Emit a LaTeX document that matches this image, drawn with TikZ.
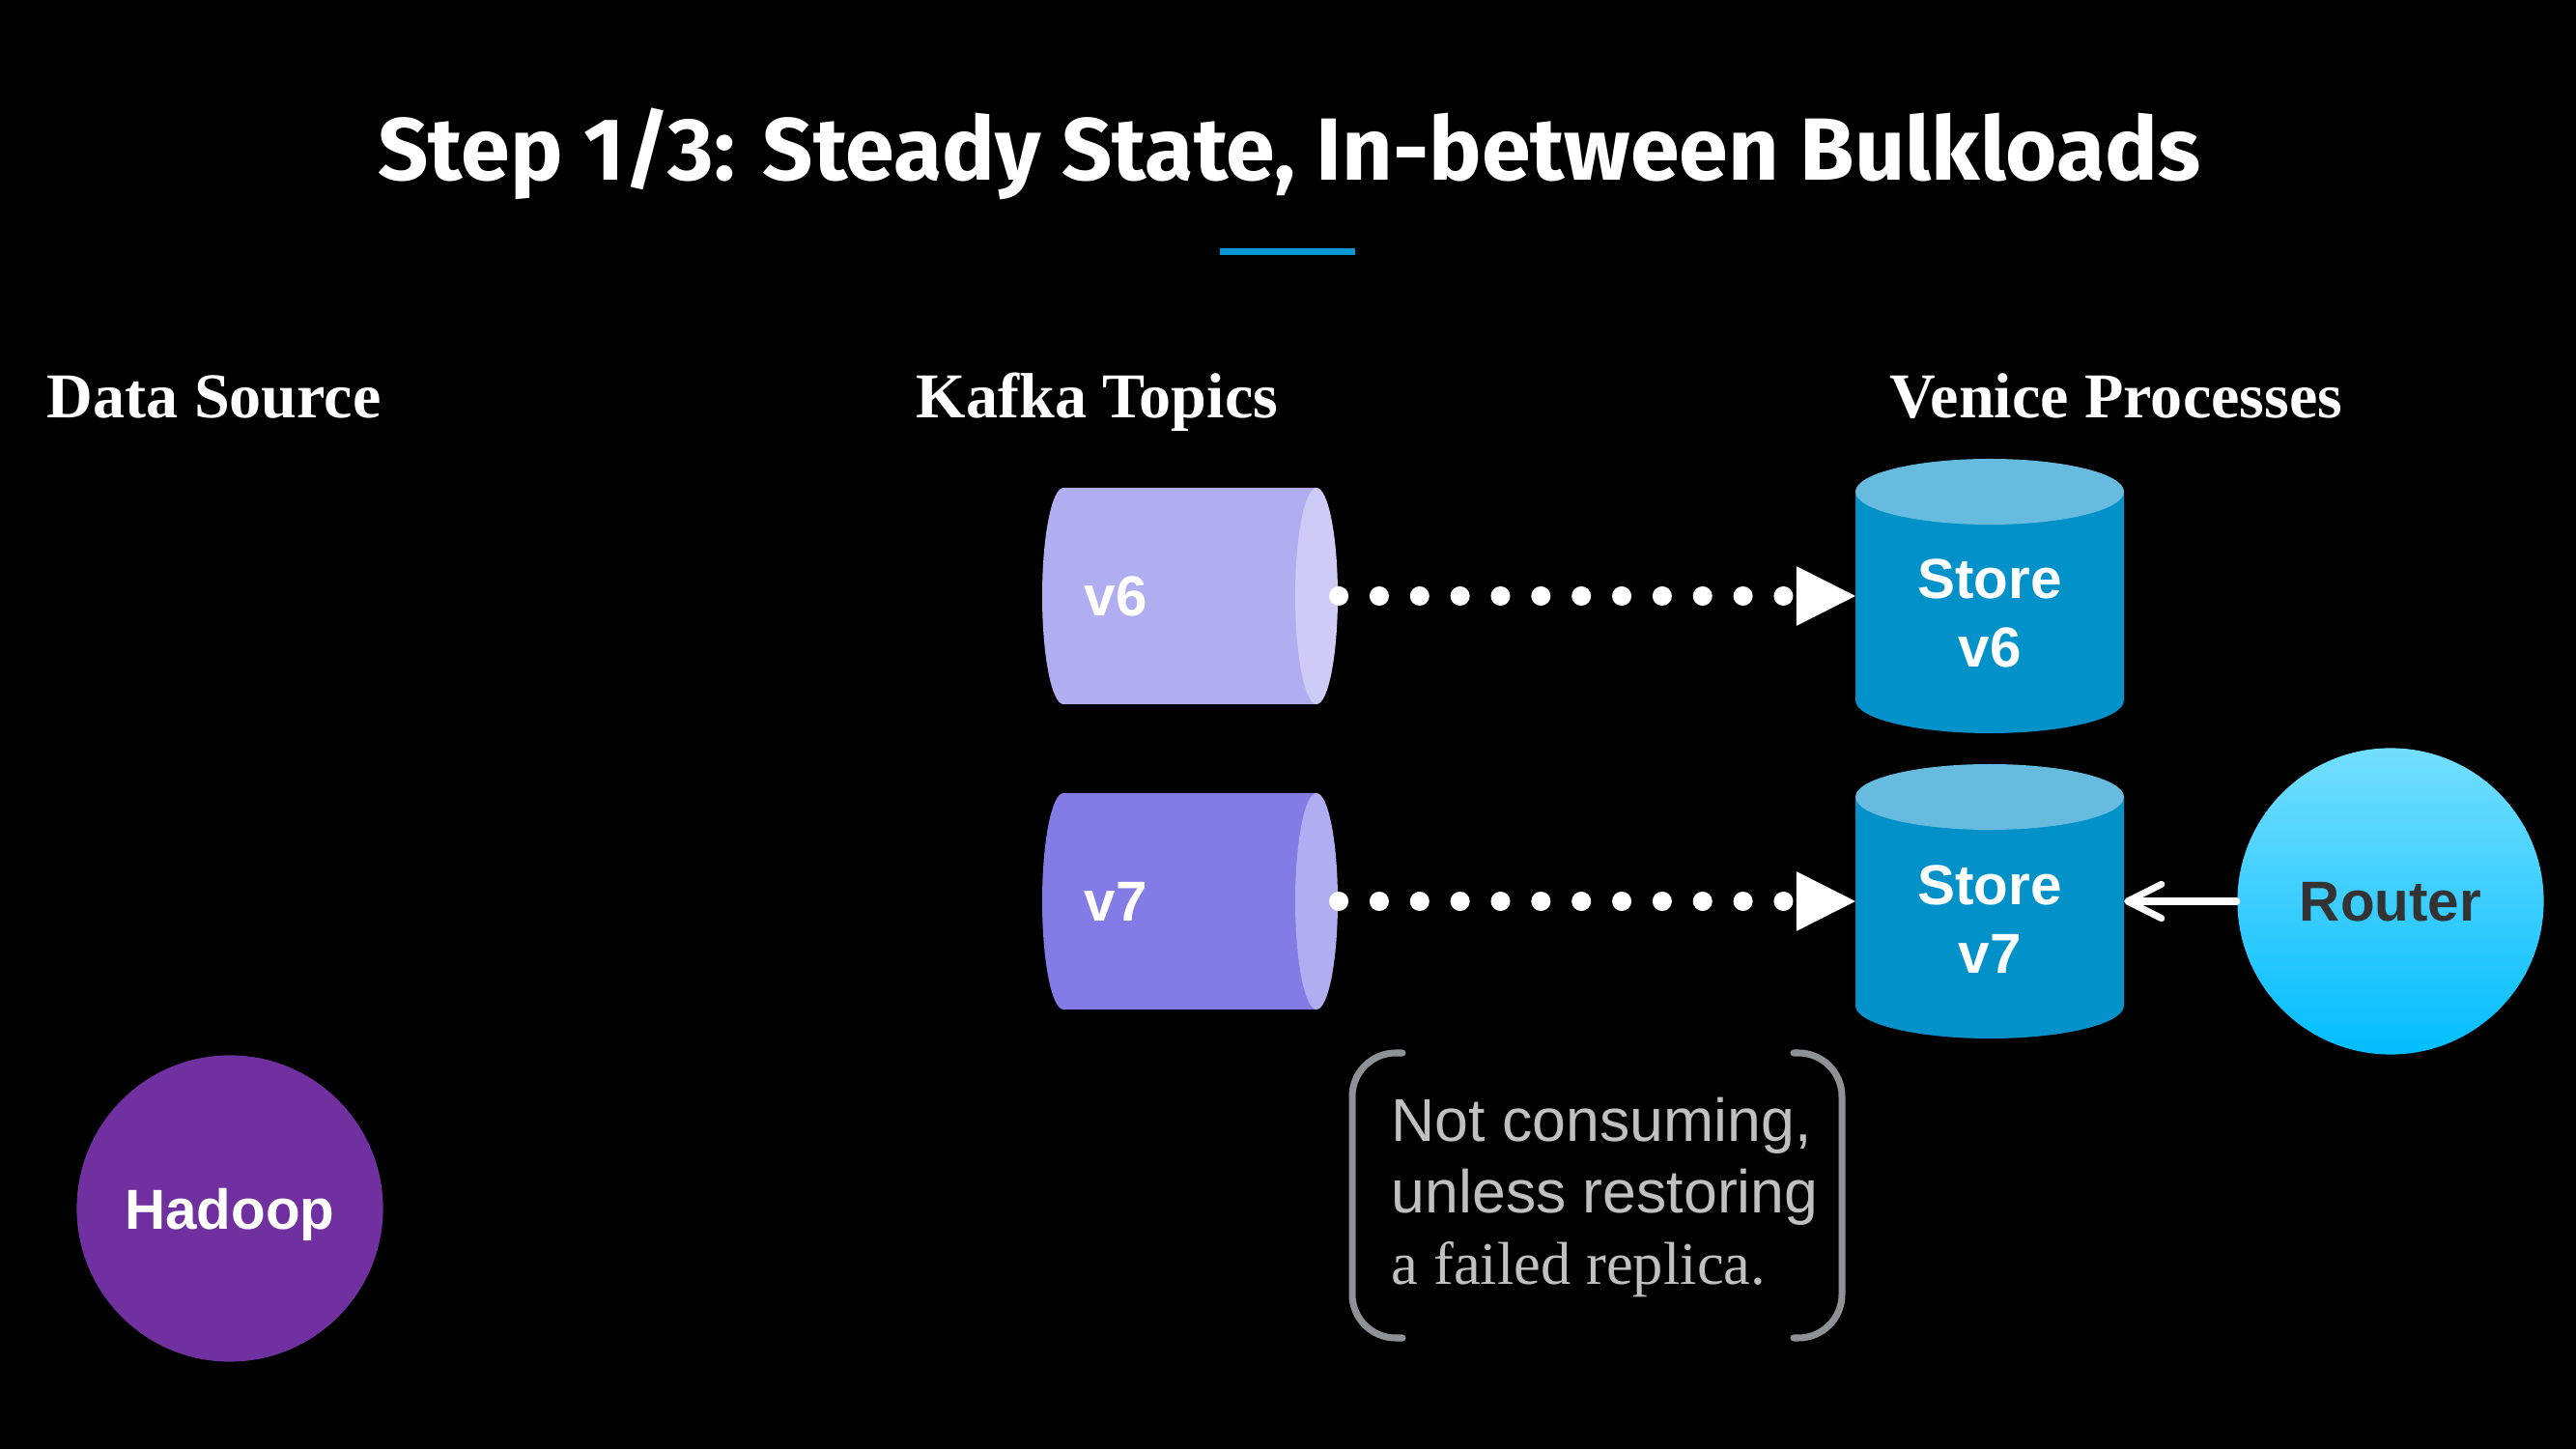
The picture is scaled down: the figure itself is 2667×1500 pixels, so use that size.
\documentclass[tikz,border=0pt]{standalone}
\usepackage{fontspec}
\setmainfont{Liberation Serif}
\setsansfont{Liberation Sans}
\newfontfamily\titlefont{Fira Sans}
\usetikzlibrary{arrows.meta}

\definecolor{accentblue}{HTML}{0A98D4}
\definecolor{kafkapale}{HTML}{B0ADF0}
\definecolor{kafkacap}{HTML}{CECBF7}
\definecolor{kafkadeep}{HTML}{837BE6}
\definecolor{storebody}{HTML}{0391C9}
\definecolor{storetop}{HTML}{66BBDF}
\definecolor{routertop}{HTML}{74DEFF}
\definecolor{routerbottom}{HTML}{02BDFE}
\definecolor{routerink}{HTML}{333333}
\definecolor{hadooppurple}{HTML}{7030A0}
\definecolor{bracketgray}{HTML}{8E9196}
\definecolor{notegray}{HTML}{C0C0C0}

\tikzset{
	titletext/.style={white, inner sep=0pt, font=\titlefont\bfseries\fontsize{26}{30}\selectfont},
	header/.style={white, inner sep=0pt, font=\rmfamily\bfseries\fontsize{18.8}{22}\selectfont},
	shapebox/.style={inner sep=0pt, outer sep=0pt},
	bodytext/.style={white, inner sep=0pt, align=center, font=\sffamily\bfseries\fontsize{16.6}{20.2}\selectfont},
	disc/.style={circle, inner sep=0pt, minimum size=3.17cm, text depth=0pt, font=\sffamily\bfseries\fontsize{16.6}{20}\selectfont},
	dotflow/.style={draw=white, line width=5.7pt, line cap=round, dash pattern=on 0pt off 11.9pt, -{Triangle[length=17.4pt,width=17.6pt,line width=0pt]}},
	backflow/.style={draw=white, line width=2pt, line cap=round, -{Straight Barb[length=10pt,width=10pt,round]}},
	bracket/.style={draw=bracketgray, line width=2pt, line cap=round, rounded corners=0.45cm},
	notetext/.style={notegray, inner sep=0pt, align=left, font=\sffamily\fontsize{17.8}{21.05}\selectfont},
}

\begin{document}
\begin{tikzpicture}[x=0.01cm, y=0.01cm]
	\fill[black] (0,0) rectangle (2667,1500);
	\useasboundingbox (0,0) rectangle (2667,1500);
	\node[titletext, anchor=base] (title) at (1335,1313) {Step 1/3: Steady State, In-between Bulkloads};
	\draw[accentblue, line width=2pt] (1263,1239) -- (1403,1239);
	\node[header, anchor=base west] (source) at (48,1067) {Data Source};
	\node[header, anchor=base] (topics) at (1136,1067) {Kafka Topics};
	\node[header, anchor=base] (venice) at (2191,1067) {Venice Processes};
	\fill[kafkapale] (1363,995) -- (1101,995) arc[start angle=90, end angle=270, x radius=22, y radius=112] -- (1363,771) -- cycle;
	\fill[kafkacap] (1363,883) ellipse[x radius=22, y radius=112];
	\fill[kafkadeep] (1363,679) -- (1101,679) arc[start angle=90, end angle=270, x radius=22, y radius=112] -- (1363,455) -- cycle;
	\fill[kafkapale] (1363,567) ellipse[x radius=22, y radius=112];
	\fill[storebody] (1921,991) -- (1921,775) arc[start angle=180, end angle=360, x radius=139, y radius=34] -- (2199,991) -- cycle;
	\fill[storetop] (2060,991) ellipse[x radius=139, y radius=34];
	\fill[storebody] (1921,675) -- (1921,459) arc[start angle=180, end angle=360, x radius=139, y radius=34] -- (2199,675) -- cycle;
	\fill[storetop] (2060,675) ellipse[x radius=139, y radius=34];
	\node[shapebox, minimum width=3.08cm, minimum height=2.24cm] (topic6) at (1232,883) {};
	\node[shapebox, minimum width=3.08cm, minimum height=2.24cm] (topic7) at (1232,567) {};
	\node[shapebox, minimum width=2.78cm, minimum height=2.84cm] (store6) at (2060,883) {};
	\node[shapebox, minimum width=2.78cm, minimum height=2.84cm] (store7) at (2060,567) {};
	\node[bodytext, anchor=base west] (topic6label) at (1122,862) {v6};
	\node[bodytext, anchor=base west] (topic7label) at (1122,546) {v7};
	\node[bodytext, anchor=base] (store6label) at (2060,809) {Store\\v6};
	\node[bodytext, anchor=base] (store7label) at (2060,492) {Store\\v7};
	\node[disc, top color=routertop, bottom color=routerbottom, text=routerink] (router) at (2475,567) {Router};
	\node[disc, fill=hadooppurple, text=white] (hadoop) at (238,249) {Hadoop};
	\draw[dotflow] (topic6.east) -- (store6.west);
	\draw[dotflow] (topic7.east) -- (store7.west);
	\draw[backflow] (router.west) -- (store7.east);
	\draw[bracket] (1452,410) -- (1400,410) -- (1400,115) -- (1452,115);
	\draw[bracket] (1857,410) -- (1907,410) -- (1907,115) -- (1857,115);
	\node[notetext, anchor=base west] (note) at (1440,170) {Not consuming,\\unless restoring\\{\rmfamily a failed replica.}};
\end{tikzpicture}
\end{document}
